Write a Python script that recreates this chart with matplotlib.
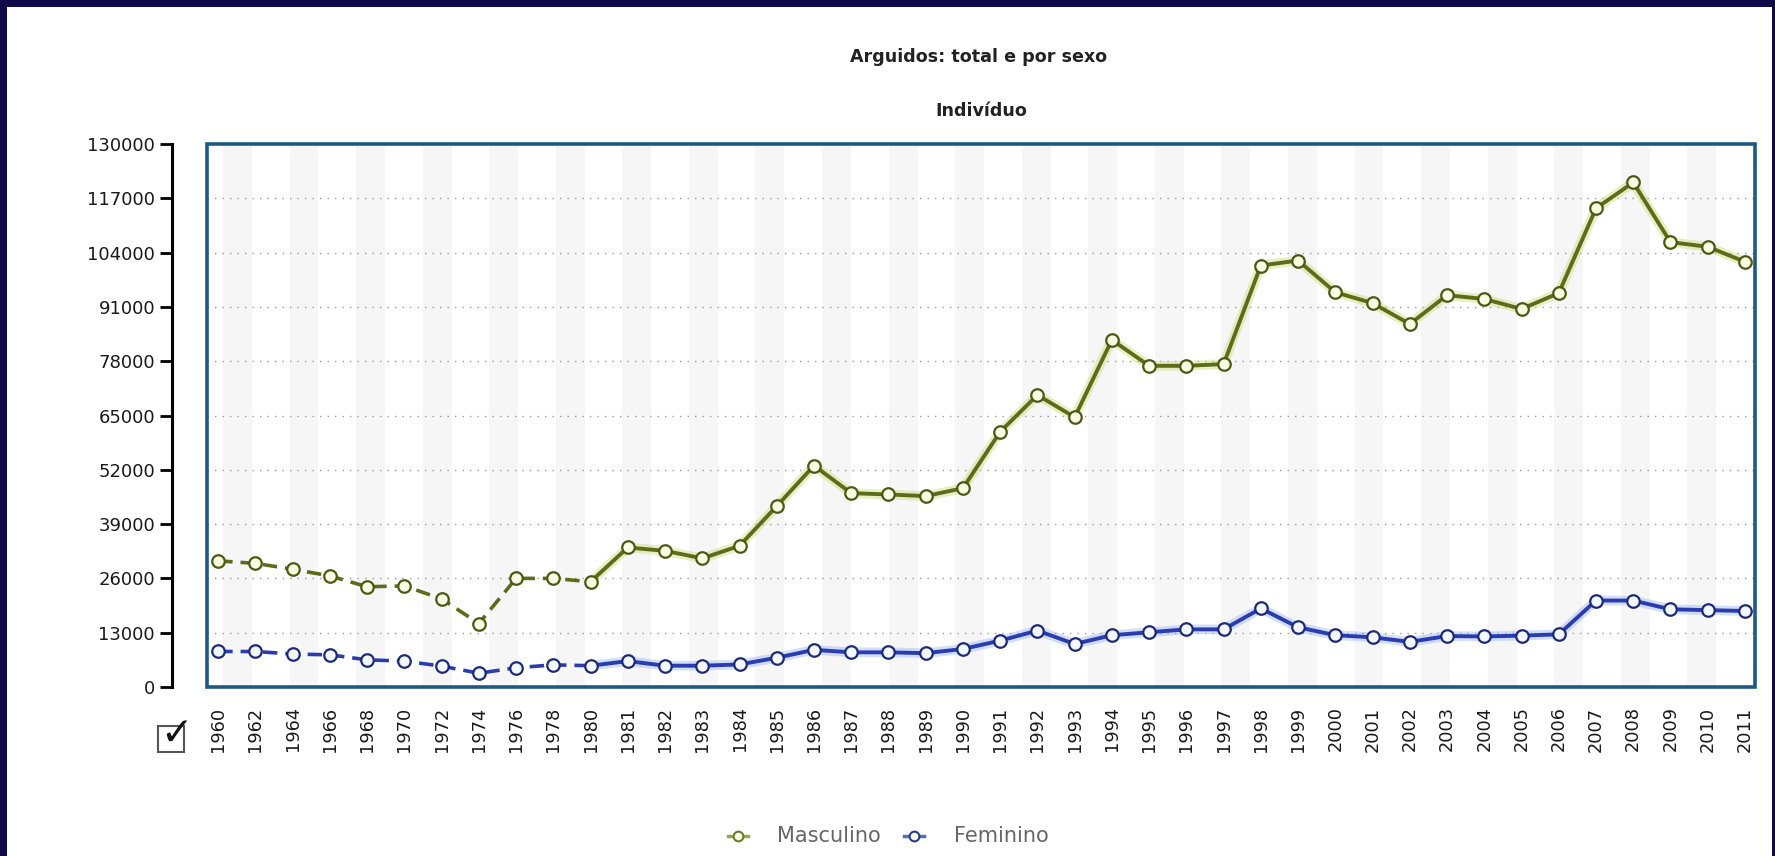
import numpy as np
import matplotlib
matplotlib.use("Agg")
import matplotlib.pyplot as plt
from matplotlib.patches import Rectangle
from matplotlib.lines import Line2D
from matplotlib.transforms import Bbox

# ---------------- data ----------------
years = ['1960', '1962', '1964', '1966', '1968', '1970', '1972', '1974', '1976', '1978', '1980',
         '1981', '1982', '1983', '1984', '1985', '1986', '1987', '1988', '1989', '1990',
         '1991', '1992', '1993', '1994', '1995', '1996', '1997', '1998', '1999', '2000',
         '2001', '2002', '2003', '2004', '2005', '2006', '2007', '2008', '2009', '2010', '2011']
masculino = [30200, 29600, 28200, 26600, 24000, 24200, 21100, 15200, 26000, 26000, 25200,
             33400, 32600, 30800, 33800, 43300, 53000, 46400, 46100, 45700, 47600,
             61100, 69900, 64600, 83100, 76900, 76900, 77300, 100900, 102100, 94500,
             91900, 86900, 93800, 92900, 90500, 94300, 114600, 120800, 106500, 105400, 101800]
feminino = [8500, 8500, 7900, 7700, 6500, 6200, 5000, 3300, 4600, 5300, 5100,
            6200, 5100, 5100, 5400, 7000, 8900, 8300, 8300, 8100, 9100,
            11100, 13500, 10300, 12400, 13100, 13800, 13800, 18800, 14300, 12400,
            11900, 10800, 12200, 12100, 12300, 12600, 20700, 20700, 18600, 18400, 18200]
yticks = [0, 13000, 26000, 39000, 52000, 65000, 78000, 91000, 104000, 117000, 130000]
title = 'Arguidos: total e por sexo'
subtitle = 'Indivíduo'
series_names = ['Masculino', 'Feminino']

# ---------------- figure ----------------
W, H = 1775, 856
fig = plt.figure(figsize=(W / 100, H / 100), dpi=100)
fig.patch.set_facecolor('#110a4a')
# white panel inside the navy border
fig.add_artist(Rectangle((7 / W, 0), (1772 - 7) / W, (H - 7) / H, transform=fig.transFigure,
                         facecolor='white', edgecolor='none', zorder=0))

ax_l, ax_r, ax_t, ax_b = 207, 1755, 144, 687
ax = fig.add_axes([ax_l / W, 1 - ax_b / H, (ax_r - ax_l) / W, (ax_b - ax_t) / H])
ax.set_facecolor('white')

x = np.arange(len(years))
ax.set_xlim(-0.3, len(years) - 1 + 0.27)
ax.set_ylim(yticks[0], yticks[-1])

# faint vertical background bands (decorative)
for f0 in np.arange(0.0103, 1.0, 0.043):
    ax.add_patch(Rectangle((f0, 0), 0.0187, 1, transform=ax.transAxes,
                           facecolor='#f6f6f6', edgecolor='none', zorder=0))

# dotted grid lines
for yv in yticks[1:-1]:
    ax.axhline(yv, color='#9a9a9a', lw=1.0, ls=(0, (1, 4.4)), zorder=1)

# frame
ax.add_patch(Rectangle((0, 0), 1, 1, transform=ax.transAxes, fill=False,
                       edgecolor='#1d5a82', lw=2.6, zorder=6, clip_on=False))
for s in ['top', 'right', 'bottom']:
    ax.spines[s].set_visible(False)
ax.spines['left'].set_position(('outward', 25.2))
ax.spines['left'].set_linewidth(2.2)
ax.spines['left'].set_color('black')

ax.set_yticks(yticks)
ax.set_yticklabels([str(v) for v in yticks])
ax.tick_params(axis='y', length=8.6, width=2.0, pad=3.6, labelsize=13, labelcolor='#1a1a1a',
               direction='out')
ax.set_xticks(x)
ax.set_xticklabels(years, rotation=90)
ax.tick_params(axis='x', length=0, pad=14, labelsize=12.8, labelcolor='#1a1a1a')
clip = Bbox.from_extents(0, 0, 1750, H)
for lab in ax.get_xticklabels():
    lab.set_verticalalignment('top')
    lab.set_clip_box(clip)
    lab.set_clip_on(True)

split = years.index('1980')

def draw_series(vals, line_c, glow_c, face_c, edge_c, z):
    vals = np.asarray(vals, dtype=float)
    # glow on the solid part
    ax.plot(x[split:], vals[split:], color=glow_c, lw=7, alpha=0.45,
            solid_capstyle='round', zorder=z)
    # main line
    ax.plot(x[:split + 1], vals[:split + 1], color=line_c, lw=2.6,
            dashes=(4, 2.2), zorder=z + 1)
    ax.plot(x[split:], vals[split:], color=line_c, lw=2.8, zorder=z + 1)
    ax.plot(x, vals, ls='none', marker='o', ms=9, mfc=face_c, mec=edge_c, mew=1.6,
            zorder=z + 2)

draw_series(masculino, '#5b6d1a', '#cfdc7a', '#fbfde2', '#4a5914', 3)
draw_series(feminino, '#2a3cb0', '#9fb8f2', '#f3f8ff', '#1c2a78', 3)

# titles
fig.text(979 / W, 1 - 57 / H, title, ha='center', va='center', fontsize=12.6,
         fontweight='bold', color='#222222')
fig.text(981 / W, 1 - 111 / H, subtitle, ha='center', va='center', fontsize=12.6,
         fontweight='bold', color='#222222')

# legend
leg_y = 1 - 836 / H
for cx, tx, name, lc, ec in [(738, 777, series_names[0], '#9aa84c', '#6d7d2a'),
                             (914, 954, series_names[1], '#4f6fbf', '#2a3c90')]:
    fig.add_artist(Line2D([(cx - 10) / W, (cx + 10) / W], [leg_y, leg_y],
                          transform=fig.transFigure, color=lc, lw=2.5))
    fig.add_artist(Line2D([cx / W], [leg_y], transform=fig.transFigure, marker='o', ms=7,
                          mfc='#fbfde8', mec=ec, mew=1.5, ls='none'))
    fig.text(tx / W, leg_y, name, ha='left', va='center', fontsize=15, color='#666666')

# checkbox icon
fig.add_artist(Rectangle((158 / W, 1 - 752 / H), 26 / W, 26 / H, transform=fig.transFigure,
                         facecolor='white', edgecolor='#555555', lw=1.5))
fig.text(176 / W, 1 - 734 / H, '✓', ha='center', va='center', fontsize=28,
         fontweight='bold', color='#111111')

fig.savefig('out.png', dpi=100, facecolor=fig.get_facecolor())
